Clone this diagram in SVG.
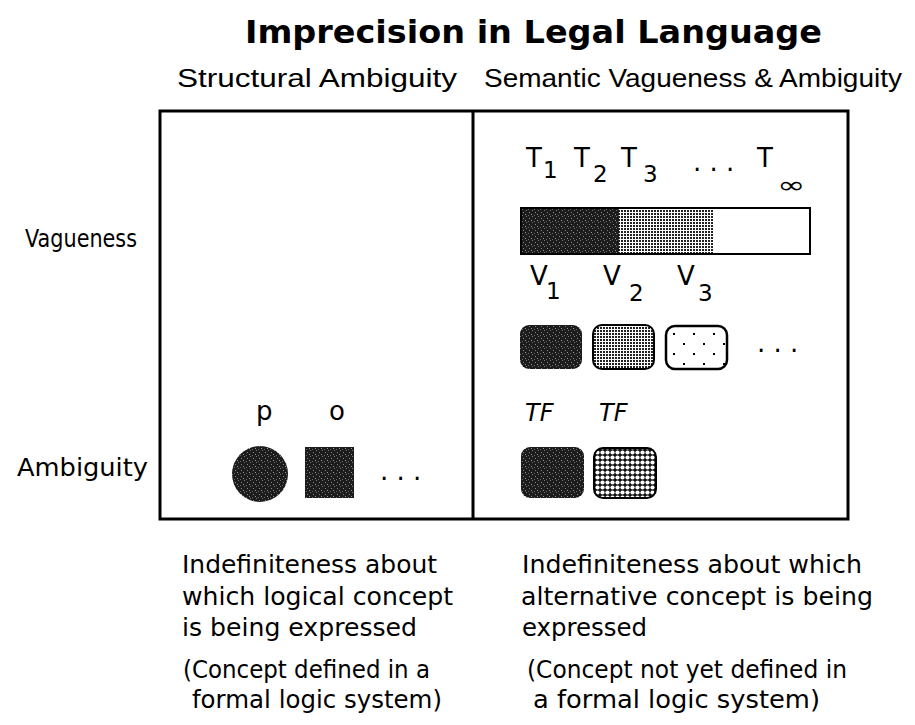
<svg xmlns="http://www.w3.org/2000/svg" width="915" height="725" viewBox="0 0 915 725">
<defs>
<style>
text{font-family:"DejaVu Sans","Liberation Sans",sans-serif;fill:#000}
.title{font-size:32px;font-weight:bold}
.hd{font-size:26px;font-family:"Liberation Sans","DejaVu Sans",sans-serif}
.lb{font-size:24px}
.sym{font-size:26px}
.sub{font-size:23px}
.body{font-size:25px}
.it{font-size:24px;font-style:italic}
</style>
<pattern id="dark" width="6" height="6" patternUnits="userSpaceOnUse">
<rect width="6" height="6" fill="#1c1c1c"/>
<rect x="1" y="2" width="1" height="1" fill="#888"/>
<rect x="4" y="0" width="1" height="1" fill="#777"/>
<rect x="3" y="4" width="1" height="1" fill="#999"/>
<rect x="0" y="5" width="1" height="1" fill="#666"/>
</pattern>
<pattern id="checker" width="3" height="3" patternUnits="userSpaceOnUse">
<rect width="3" height="3" fill="#fff"/>
<rect x="0" y="0" width="2" height="2" fill="#222"/>
</pattern>
<pattern id="sparse" width="20" height="20" patternUnits="userSpaceOnUse">
<rect width="20" height="20" fill="#fff"/>
<rect x="3" y="3" width="2" height="2" fill="#000"/>
<rect x="13" y="13" width="2" height="2" fill="#000"/>
</pattern>
<pattern id="dotgrid" width="5" height="5" patternUnits="userSpaceOnUse">
<rect width="5" height="5" fill="#111"/>
<circle cx="2.5" cy="2.5" r="2.1" fill="#fff"/>
</pattern>
</defs>
<rect width="915" height="725" fill="#fff"/>

<g id="title">
<text class="title" x="245" y="43" textLength="577" lengthAdjust="spacingAndGlyphs">Imprecision in Legal Language</text>
</g>
<g id="col-structural">
<text class="hd" x="177" y="87" textLength="280" lengthAdjust="spacingAndGlyphs">Structural Ambiguity</text>
</g>
<g id="col-semantic">
<text class="hd" x="484" y="87" textLength="418" lengthAdjust="spacingAndGlyphs">Semantic Vagueness &amp; Ambiguity</text>
</g>
<g id="row-vagueness">
<text class="lb" x="25" y="247" textLength="112" lengthAdjust="spacingAndGlyphs">Vagueness</text>
</g>
<g id="row-ambiguity">
<text class="lb" x="17" y="476" textLength="131" lengthAdjust="spacingAndGlyphs">Ambiguity</text>
</g>

<g id="grid">
<rect x="160" y="111" width="688" height="408" fill="none" stroke="#000" stroke-width="3"/>
<line x1="473" y1="111" x2="473" y2="519" stroke="#000" stroke-width="3"/>
</g>

<g id="truth-scale">
<text class="sym" x="526" y="167">T</text><text class="sub" x="543" y="178">1</text>
<text class="sym" x="574" y="167">T</text><text class="sub" x="593" y="182">2</text>
<text class="sym" x="621" y="167">T</text><text class="sub" x="643" y="182">3</text>
<text class="sym" x="693" y="171">. . .</text>
<text class="sym" x="757" y="167">T</text><text class="sub" x="777" y="193" font-size="44px" textLength="28" lengthAdjust="spacingAndGlyphs">∞</text>
</g>
<g id="truth-bar">
<rect x="521" y="208" width="98" height="46" fill="url(#dark)"/>
<rect x="619" y="208" width="94" height="46" fill="url(#checker)"/>
<rect x="521" y="208" width="289" height="46" fill="none" stroke="#000" stroke-width="2"/>
</g>

<g id="vague-values">
<text class="sym" x="530" y="285">V</text><text class="sub" x="546" y="299">1</text>
<text class="sym" x="603" y="285">V</text><text class="sub" x="629" y="301">2</text>
<text class="sym" x="677" y="285">V</text><text class="sub" x="698" y="301">3</text>
<rect x="520" y="325" width="62" height="44" rx="9" fill="url(#dark)"/>
<rect x="593" y="325" width="61" height="44" rx="9" fill="url(#checker)" stroke="#000" stroke-width="2"/>
<rect x="666" y="326" width="61" height="43" rx="9" fill="url(#sparse)" stroke="#000" stroke-width="2.5"/>
<text class="sym" x="757" y="352">. . .</text>
</g>

<g id="structural-operators">
<text class="sym" x="256" y="420">p</text>
<text class="sym" x="329" y="420">o</text>
<ellipse cx="260" cy="474" rx="28" ry="28" fill="url(#dark)"/>
<rect x="305" y="447" width="49" height="51" fill="url(#dark)"/>
<text class="sym" x="380" y="480">. . .</text>
</g>

<g id="truth-values">
<text class="it" x="525" y="421">TF</text>
<text class="it" x="599" y="421">TF</text>
<rect x="521" y="447" width="63" height="51" rx="9" fill="url(#dark)"/>
<rect x="594" y="448" width="62" height="50" rx="9" fill="url(#dotgrid)" stroke="#000" stroke-width="2"/>
</g>

<g id="note-structural">
<text class="body" x="182" y="573" textLength="255" lengthAdjust="spacingAndGlyphs">Indefiniteness about</text>
<text class="body" x="182" y="605" textLength="271" lengthAdjust="spacingAndGlyphs">which logical concept</text>
<text class="body" x="182" y="636" textLength="235" lengthAdjust="spacingAndGlyphs">is being expressed</text>
<text class="body" x="183" y="678" textLength="247" lengthAdjust="spacingAndGlyphs">(Concept defined in a</text>
<text class="body" x="192" y="708" textLength="250" lengthAdjust="spacingAndGlyphs">formal logic system)</text>
</g>
<g id="note-semantic">
<text class="body" x="522" y="573" textLength="340" lengthAdjust="spacingAndGlyphs">Indefiniteness about which</text>
<text class="body" x="521" y="605" textLength="352" lengthAdjust="spacingAndGlyphs">alternative concept is being</text>
<text class="body" x="522" y="636" textLength="125" lengthAdjust="spacingAndGlyphs">expressed</text>
<text class="body" x="527" y="678" textLength="320" lengthAdjust="spacingAndGlyphs">(Concept not yet defined in</text>
<text class="body" x="533" y="708" textLength="287" lengthAdjust="spacingAndGlyphs">a formal logic system)</text>
</g>
</svg>
